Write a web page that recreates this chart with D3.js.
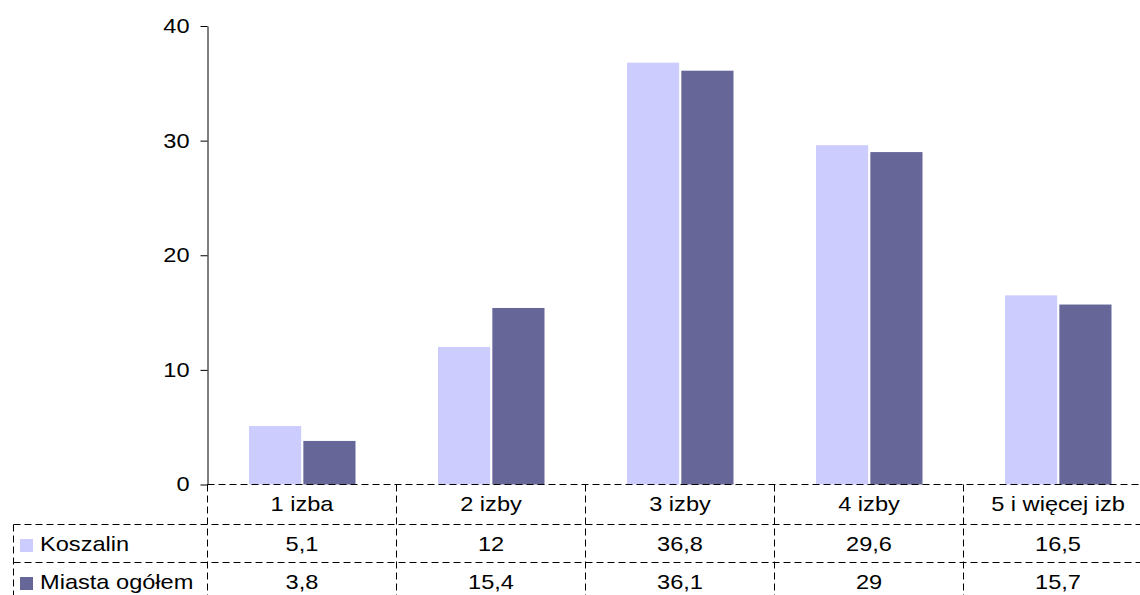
<!DOCTYPE html>
<html>
<head>
<meta charset="utf-8">
<script src="https://cdn.jsdelivr.net/npm/d3@7"></script>
<style>
  html, body { margin: 0; padding: 0; background: #fff; overflow: hidden; }
  svg { display: block; font-family: "Liberation Sans", Arial, sans-serif; }
</style>
</head>
<body>
<svg id="chart" width="1140" height="595"></svg>
<script>
// Share of dwellings by number of rooms (%)
const categories = ["1 izba", "2 izby", "3 izby", "4 izby", "5 i więcej izb"];
const seriesNames = ["Koszalin", "Miasta ogółem"];
const koszalin = [5.1, 12, 36.8, 29.6, 16.5];
const miastaOgolem = [3.8, 15.4, 36.1, 29, 15.7];
const yTicks = [0, 10, 20, 30, 40];

const seriesValues = [koszalin, miastaOgolem];
const seriesColors = ["#CCCCFF", "#666699"];

// layout
const plotLeft = 207.5, plotTop = 26, plotBottom = 484.5, bandStep = 189;
const tableLeft = 13.5;
const rowLines = [524.5, 562.5, 600.5];
const fontSize = 20, sx = 1.18;   // text is drawn slightly widened
const dash = "7,4";

const svg = d3.select("#chart");

const x = d3.scaleBand()
  .domain(categories)
  .range([plotLeft, plotLeft + bandStep * categories.length])
  .paddingInner(0).paddingOuter(0);

const xs = d3.scaleBand()
  .domain(seriesNames)
  .range([41.5, 148])
  .paddingInner(0.04);

const y = d3.scaleLinear().domain([0, 40]).range([plotBottom, plotTop]);

function label(g, px, py, str, anchor) {
  return g.append("text")
    .attr("transform", `translate(${px},${py}) scale(${sx},1)`)
    .attr("text-anchor", anchor)
    .attr("font-size", fontSize)
    .attr("fill", "#000")
    .text(str);
}
const fmt = v => String(v).replace(".", ",");

// bars
const bars = svg.append("g");
seriesNames.forEach((s, si) => {
  bars.selectAll(null)
    .data(categories.map((c, i) => ({ c, v: seriesValues[si][i] })))
    .join("rect")
    .attr("x", d => x(d.c) + xs(s))
    .attr("width", xs.bandwidth())
    .attr("y", d => y(d.v))
    .attr("height", d => y(0) - y(d.v))
    .attr("fill", seriesColors[si]);
});

// y axis
const yAxis = svg.append("g")
  .attr("transform", `translate(${plotLeft},0)`)
  .call(d3.axisLeft(y).tickValues(yTicks).tickSize(7).tickSizeOuter(0).tickPadding(11));
yAxis.select(".domain").attr("stroke", "#000");
yAxis.selectAll(".tick line").attr("stroke", "#000");
yAxis.selectAll(".tick text")
  .attr("font-size", fontSize)
  .attr("font-family", "Liberation Sans, Arial, sans-serif")
  .attr("fill", "#000")
  .attr("x", -18 / sx)
  .attr("transform", `scale(${sx},1)`);

// data table grid (dashed)
const grid = svg.append("g")
  .attr("stroke", "#000").attr("stroke-width", 1)
  .attr("stroke-dasharray", dash).attr("fill", "none");
const right = x.range()[1];
grid.append("line").attr("x1", plotLeft).attr("x2", right).attr("y1", y(0)).attr("y2", y(0));
rowLines.forEach(ry => {
  grid.append("line").attr("x1", tableLeft).attr("x2", right).attr("y1", ry).attr("y2", ry);
});
grid.append("line").attr("x1", tableLeft).attr("x2", tableLeft).attr("y1", rowLines[0]).attr("y2", 600);
categories.forEach(c => {
  grid.append("line").attr("x1", x(c)).attr("x2", x(c)).attr("y1", y(0)).attr("y2", 600);
});
grid.append("line").attr("x1", right).attr("x2", right).attr("y1", y(0)).attr("y2", 600);

// table text
const table = svg.append("g");
categories.forEach(c => {
  label(table, x(c) + x.bandwidth() / 2, 511, c, "middle");
});
const rowBase = [551, 589];
seriesNames.forEach((s, si) => {
  table.append("rect")
    .attr("x", 20).attr("y", rowBase[si] - 12)
    .attr("width", 13).attr("height", 13)
    .attr("fill", seriesColors[si]);
  label(table, 40, rowBase[si], s, "start");
  categories.forEach((c, i) => {
    label(table, x(c) + x.bandwidth() / 2, rowBase[si], fmt(seriesValues[si][i]), "middle");
  });
});
</script>
</body>
</html>
